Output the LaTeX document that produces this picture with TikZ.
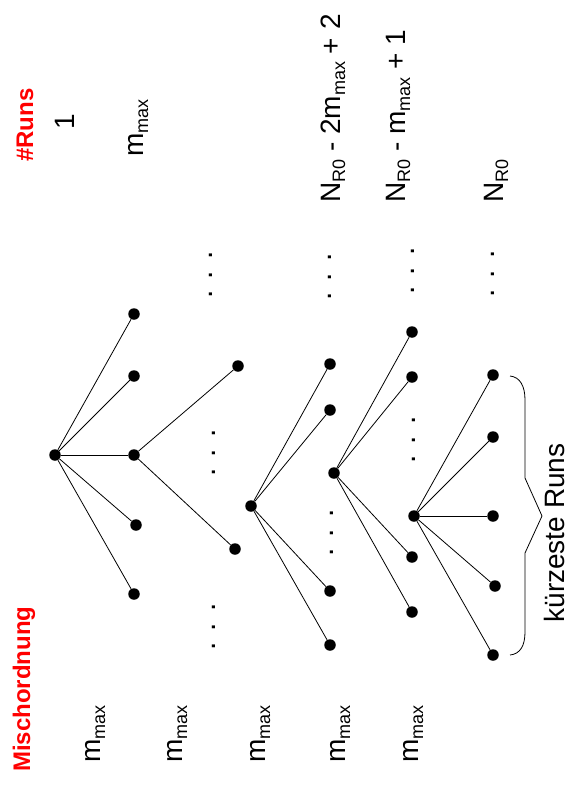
\documentclass[tikz,border=0pt]{standalone}
\usepackage{fontspec}
\setmainfont{Liberation Sans}
\newcommand{\subtxt}[1]{\raisebox{-5pt}{\fontsize{18}{18}\selectfont #1}}
\begin{document}
\begin{tikzpicture}[x=1pt,y=-1pt,
  dot/.style={circle,fill=black,inner sep=0pt,minimum size=11.5pt},
  edge/.style={line width=0.8pt},
  lbl/.style={rotate=90,anchor=base west,inner sep=0pt,font=\fontsize{28}{28}\selectfont},
  redlbl/.style={rotate=90,anchor=base west,inner sep=0pt,text=red,font=\fontsize{24}{24}\selectfont\bfseries},
  ell/.style={rotate=90,anchor=base west,inner sep=0pt,font=\fontsize{30}{30}\selectfont}]
\useasboundingbox (0,0) rectangle (568,789);
% tree 1
\node[dot] (a0) at (55,455) {};
\node[dot] (a1) at (134,314) {};
\node[dot] (a2) at (134,376) {};
\node[dot] (a3) at (134,455) {};
\node[dot] (a4) at (136,525) {};
\node[dot] (a5) at (134,594) {};
% tree 2
\node[dot] (b1) at (238,366) {};
\node[dot] (b2) at (235,549) {};
% tree 3
\node[dot] (c0) at (251,506) {};
\node[dot] (c1) at (330,364) {};
\node[dot] (c2) at (330,410) {};
\node[dot] (c3) at (330,591) {};
\node[dot] (c4) at (330,645) {};
% tree 4
\node[dot] (d0) at (334,473) {};
\node[dot] (d1) at (412,332) {};
\node[dot] (d2) at (412,377) {};
\node[dot] (d3) at (412,557) {};
\node[dot] (d4) at (412,612) {};
% tree 5
\node[dot] (e0) at (414,516) {};
\node[dot] (e1) at (493,375) {};
\node[dot] (e2) at (493,437) {};
\node[dot] (e3) at (493,516) {};
\node[dot] (e4) at (495,586) {};
\node[dot] (e5) at (493,655) {};
% edges
\foreach \t in {a1,a2,a3,a4,a5} \draw[edge] (a0) -- (\t);
\foreach \t in {b1,b2} \draw[edge] (a3) -- (\t);
\foreach \t in {c1,c2,c3,c4} \draw[edge] (c0) -- (\t);
\foreach \t in {d1,d2,d3,d4} \draw[edge] (d0) -- (\t);
\foreach \t in {e1,e2,e3,e4,e5} \draw[edge] (e0) -- (\t);
% ellipses
\node[ell] (el1) at (212,299) {. . .};
\node[ell] (el2) at (215,477) {. . .};
\node[ell] (el3) at (215,651) {. . .};
\node[ell] (el4) at (331.5,301) {. . .};
\node[ell] (el5) at (333,557) {. . .};
\node[ell] (el6) at (414,295) {. . .};
\node[ell] (el7) at (415,464) {. . .};
\node[ell] (el8) at (494,298) {. . .};
% brace
\coordinate (brtip) at (542,516);
\draw[line width=0.8pt] (510,376) .. controls (520,377) and (525,386) .. (525,400)
  -- (525,478) -- (brtip) -- (525,553) -- (525,632)
  .. controls (525,646) and (520,654) .. (510,655);
\node[lbl,anchor=base] (kr) at (564,533) {kürzeste Runs};
% left labels
\node[redlbl] (misch) at (30,772) {Mischordnung};
\node[lbl] (m1) at (100,763) {m\subtxt{max}};
\node[lbl] (m2) at (182,763) {m\subtxt{max}};
\node[lbl] (m3) at (265,763) {m\subtxt{max}};
\node[lbl] (m4) at (345,763) {m\subtxt{max}};
\node[lbl] (m5) at (418,763) {m\subtxt{max}};
% top labels
\node[redlbl] (runs) at (33,162) {\#Runs};
\node[lbl,anchor=base] (one) at (74,122) {1};
\node[lbl] (mt) at (143,157) {m\subtxt{max}};
\node[lbl] (n1) at (340,203) {N\subtxt{R0} - 2m\subtxt{max} + 2};
\node[lbl] (n2) at (405,203) {N\subtxt{R0} - m\subtxt{max} + 1};
\node[lbl] (n3) at (503,203) {N\subtxt{R0}};
\end{tikzpicture}
\end{document}
